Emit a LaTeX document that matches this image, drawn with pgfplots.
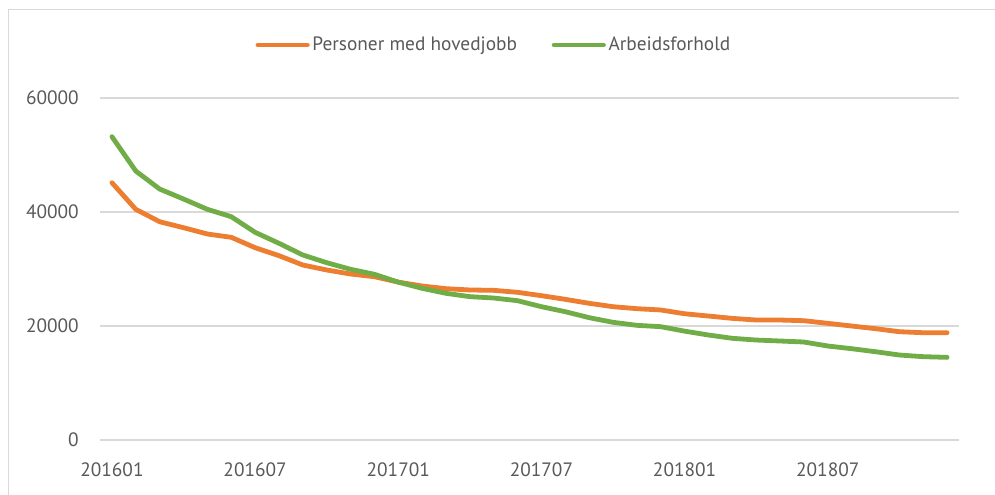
\documentclass[border=0pt]{standalone}
\usepackage{fontspec}
\setmainfont{PT Sans}
\usepackage{pgfplots}
\pgfplotsset{compat=1.18}
\usepackage{pgfplotstable}
\definecolor{orangeS}{HTML}{ED7D31}
\definecolor{greenS}{HTML}{70AD47}
\definecolor{gridc}{HTML}{D9D9D9}
\definecolor{textc}{HTML}{595959}
\pgfplotstableread{
i pers arb
0 45140 53210
1 40470 47190
2 38300 44030
3 37250 42280
4 36140 40470
5 35560 39180
6 33740 36440
7 32340 34510
8 30700 32460
9 29830 31110
10 29120 29950
11 28650 29070
12 27700 27700
13 27020 26610
14 26550 25730
15 26320 25150
16 26260 24910
17 25910 24440
18 25320 23390
19 24680 22510
20 23980 21460
21 23390 20650
22 23040 20120
23 22810 19880
24 22150 19100
25 21750 18420
26 21340 17840
27 21050 17540
28 21050 17370
29 20930 17190
30 20470 16490
31 20000 16020
32 19530 15490
33 19000 14910
34 18820 14620
35 18820 14500
}\datatable
\begin{document}
\begin{tikzpicture}[x=0.75pt,y=0.75pt]
\useasboundingbox (0,0) rectangle (995,494);
\draw[gridc, line width=0.75pt] (8,-2) -- (8,484) -- (997,484);
\begin{axis}[
  at={(100*0.75pt,54*0.75pt)}, anchor=south west,
  scale only axis,
  width=644.25pt, height=256.5pt,
  xmin=-0.5, xmax=35.5,
  ymin=0, ymax=60000,
  scaled y ticks=false,
  axis line style={draw=none},
  major tick length=0pt,
  xtick={0,6,12,18,24,30},
  xticklabels={201601,201607,201701,201707,201801,201807},
  ytick={0,20000,40000,60000},
  ymajorgrids,
  grid style={gridc, line width=0.9pt},
  yticklabel style={anchor=east, inner sep=0pt, xshift=-15.75pt, text=textc, font=\fontsize{14.5}{16}\selectfont},
  xticklabel style={anchor=north, inner sep=0pt, yshift=-17pt, text=textc, font=\fontsize{14.5}{16}\selectfont},
  /pgf/number format/.cd, 1000 sep={}, assume math mode=true,
  /pgfplots/.cd,
  legend style={at={(0.459,1.155)}, anchor=center, draw=none, fill=none,
    legend columns=2, font=\fontsize{14.5}{16}\selectfont, text=textc,
    /tikz/every even column/.append style={column sep=24pt},
    inner sep=0pt},
  legend image code/.code={\draw[#1, line cap=round] (0pt,0pt) -- (37pt,0pt);},
  clip=false,
]
\addplot[orangeS, line width=3.6pt, line join=round, line cap=round] table[x=i, y=pers] {\datatable};
\addlegendentry{Personer med hovedjobb}
\addplot[greenS, line width=3.6pt, line join=round, line cap=round] table[x=i, y=arb] {\datatable};
\addlegendentry{Arbeidsforhold}
\end{axis}
\end{tikzpicture}
\end{document}
